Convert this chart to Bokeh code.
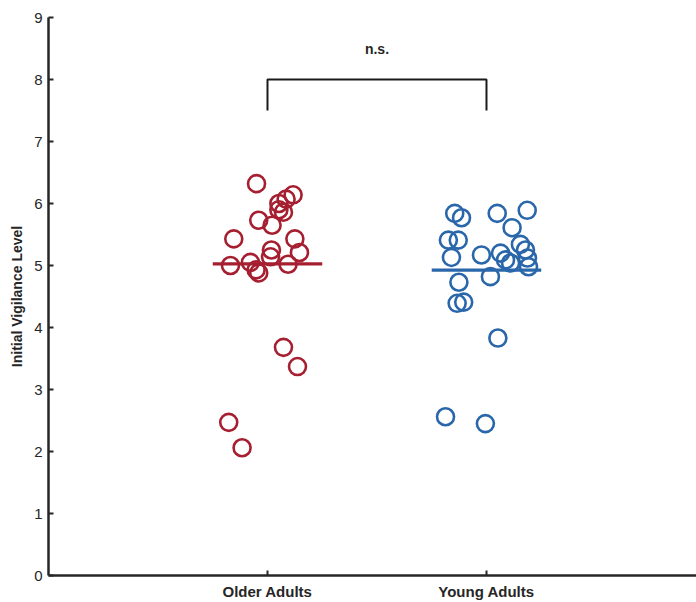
import numpy as np
from bokeh.plotting import figure
from bokeh.models import FixedTicker, ColumnDataSource
from bokeh.core.properties import value
from bokeh.embed import file_html
from bokeh.resources import INLINE

# Group labels and their positions on the x axis
groups = ["Older Adults", "Young Adults"]
group_pos = [1, 2]

# Older adults: jittered x position and initial vigilance level
older_x = [0.950, 1.117, 1.085, 1.052, 1.052, 1.073, 0.960, 1.021, 0.846, 1.125,
           1.018, 1.146, 1.014, 0.831, 0.922, 1.094, 0.948, 0.960, 1.073, 1.137,
           0.823, 0.884]
older_y = [6.32, 6.14, 6.07, 6.00, 5.90, 5.86, 5.73, 5.65, 5.43, 5.43,
           5.25, 5.21, 5.14, 5.00, 5.05, 5.02, 4.93, 4.88, 3.68, 3.37,
           2.47, 2.06]

# Young adults
young_x = [1.855, 1.886, 2.049, 2.186, 2.117, 1.826, 1.871, 2.155, 2.178, 1.840,
           1.977, 2.064, 2.087, 2.110, 2.187, 2.192, 2.018, 1.874, 1.866, 1.896,
           2.052, 1.813, 1.995]
young_y = [5.84, 5.77, 5.84, 5.89, 5.61, 5.41, 5.41, 5.34, 5.25, 5.13,
           5.17, 5.20, 5.09, 5.04, 5.12, 4.98, 4.82, 4.73, 4.39, 4.41,
           3.83, 2.56, 2.45]

sig_label = "n.s."
y_ticks = list(range(0, 10))

RED = "#A61F30"
BLUE = "#2A67AA"
INK = "#262626"
FONT = "Liberation Sans"

p = figure(width=696, height=602, output_backend="svg", toolbar_location=None,
           x_range=(0, 2.959), y_range=(0, 9),
           min_border_left=48, min_border_top=17, min_border_bottom=26,
           min_border_right=0)
p.outline_line_color = None
p.xgrid.visible = False
p.ygrid.visible = False
p.background_fill_color = "white"
p.border_fill_color = "white"

# Individual participants
p.scatter(older_x, older_y, marker="circle", size=17, fill_color=None,
          line_color=RED, line_width=2.6)
p.scatter(young_x, young_y, marker="circle", size=17, fill_color=None,
          line_color=BLUE, line_width=2.6)

# Group means
means = [float(np.mean(older_y)), float(np.mean(young_y))]
mean_src = ColumnDataSource(dict(
    x0=[g - 0.25 for g in group_pos], x1=[g + 0.25 for g in group_pos],
    y=means, color=[RED, BLUE]))
p.segment(x0="x0", x1="x1", y0="y", y1="y", line_color="color",
          line_width=3.2, source=mean_src)

# Significance bracket
p.line([group_pos[0], group_pos[0], group_pos[1], group_pos[1]],
       [7.5, 8.0, 8.0, 7.5], line_color="#1a1a1a", line_width=2)
p.text([1.5], [8.5], text=[sig_label], text_align="center",
       text_baseline="middle", text_font=value(FONT),
       text_font_style="bold", text_font_size="14px", text_color=INK)

# Axes
for ax in (p.xaxis[0], p.yaxis[0]):
    ax.axis_line_color = INK
    ax.axis_line_width = 2.5
    ax.major_tick_line_color = INK
    ax.major_tick_line_width = 2
    ax.major_tick_in = 5
    ax.major_tick_out = 0
    ax.minor_tick_line_color = None
    ax.major_label_text_font = FONT
    ax.major_label_text_color = INK

p.yaxis.ticker = FixedTicker(ticks=y_ticks)
p.yaxis.major_label_text_font_size = "15px"
p.yaxis.major_label_standoff = 6
p.yaxis.axis_label = "Initial Vigilance Level"
p.yaxis.axis_label_text_font = FONT
p.yaxis.axis_label_text_font_style = "bold"
p.yaxis.axis_label_text_font_size = "14px"
p.yaxis.axis_label_text_color = INK
p.yaxis.axis_label_standoff = 6

p.xaxis.ticker = FixedTicker(ticks=group_pos)
p.xaxis.major_label_overrides = {g: name for g, name in zip(group_pos, groups)}
p.xaxis.major_label_text_font_size = "15px"
p.xaxis.major_label_text_font_style = "bold"
p.xaxis.major_label_standoff = 7

open("out.html", "w").write(file_html(p, INLINE))
